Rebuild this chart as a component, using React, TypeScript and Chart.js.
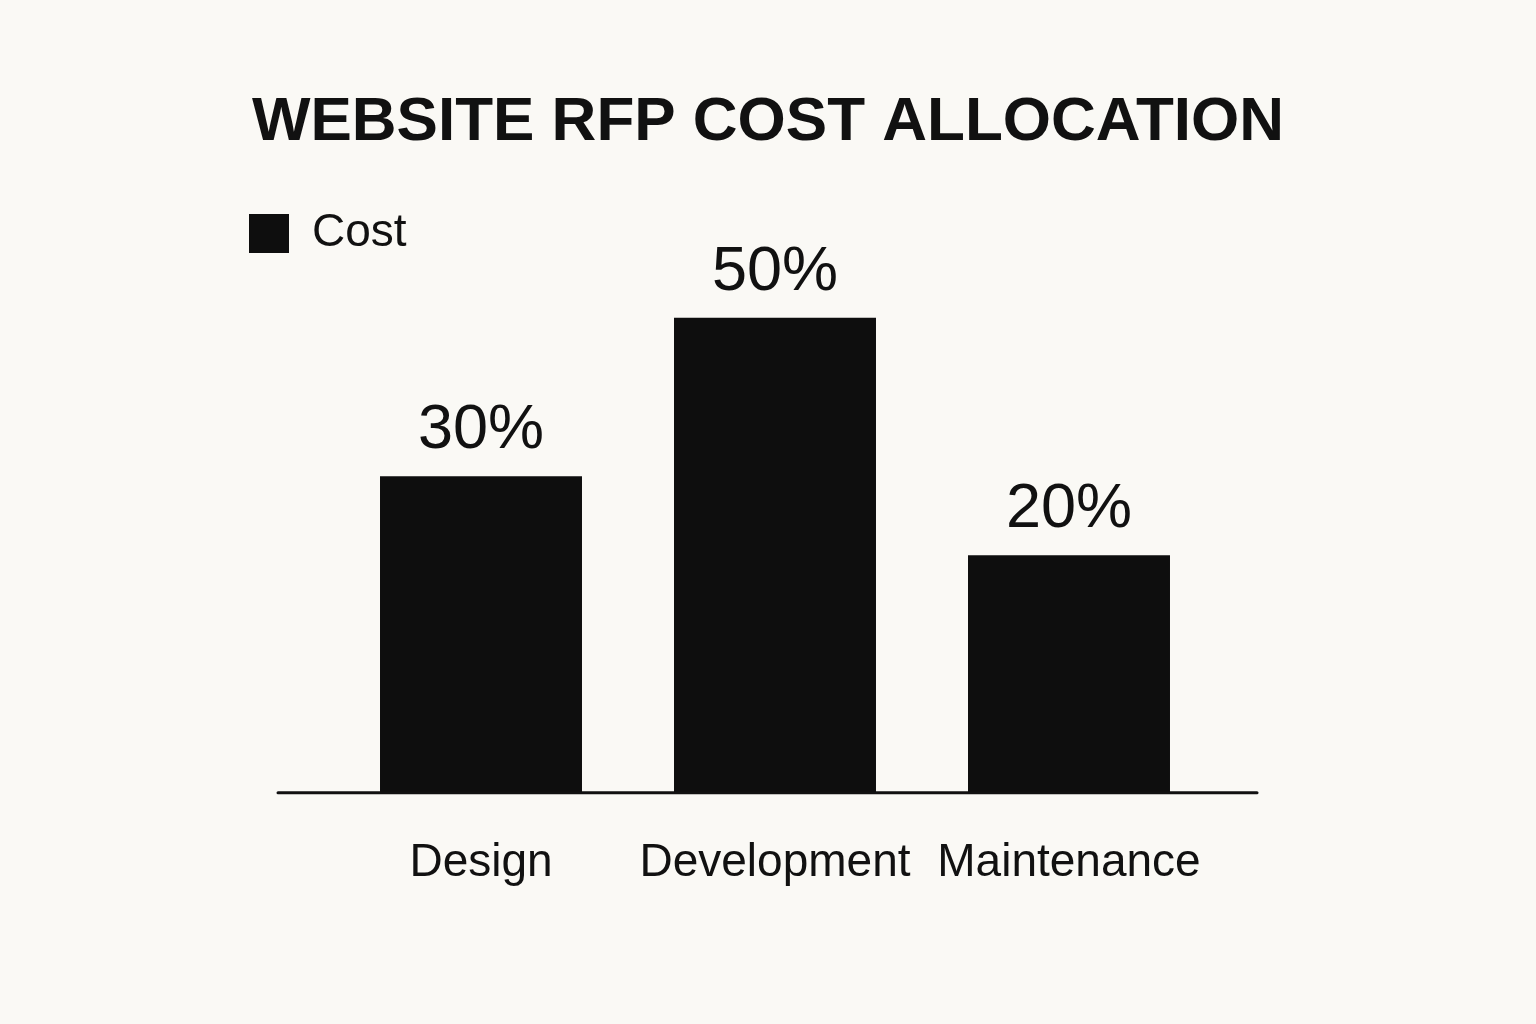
import { useEffect, useRef } from "react";
import { Chart, registerables } from "chart.js";

Chart.register(...registerables);

const categories = ["Design", "Development", "Maintenance"];
const costValues = [30, 50, 20];
const seriesLabel = "Cost";
const chartTitle = "WEBSITE RFP COST ALLOCATION";
const valueSuffix = "%";

const INK = "#111111";
const BAR = "#0e0e0e";
const BG = "#faf9f5";
const FONT = "'Liberation Sans', Arial, sans-serif";

export default function App() {
  const ref = useRef<HTMLCanvasElement>(null);

  useEffect(() => {
    if (!ref.current) return;

    const baselinePlugin = {
      id: "baseline",
      afterDatasetsDraw(chart: any) {
        const { ctx, chartArea, scales } = chart;
        const y = scales.y.getPixelForValue(scales.y.min);
        ctx.save();
        ctx.strokeStyle = INK;
        ctx.lineWidth = 3;
        ctx.lineCap = "round";
        ctx.beginPath();
        ctx.moveTo(chartArea.left - 56, y);
        ctx.lineTo(chartArea.right + 41, y);
        ctx.stroke();
        ctx.restore();
      },
    };

    const valueLabelPlugin = {
      id: "valueLabels",
      afterDatasetsDraw(chart: any) {
        const { ctx } = chart;
        const meta = chart.getDatasetMeta(0);
        ctx.save();
        ctx.fillStyle = INK;
        ctx.font = `63px ${FONT}`;
        ctx.textAlign = "center";
        ctx.textBaseline = "alphabetic";
        meta.data.forEach((bar: any, i: number) => {
          const v = chart.data.datasets[0].data[i];
          ctx.fillText(`${v}${valueSuffix}`, bar.x, bar.y - 28);
        });
        ctx.restore();
      },
    };

    const chart = new Chart(ref.current, {
      type: "bar",
      data: {
        labels: categories,
        datasets: [
          {
            label: seriesLabel,
            data: costValues,
            backgroundColor: BAR,
            borderColor: BAR,
            borderWidth: 0,
            base: -10,
            categoryPercentage: 1,
            barPercentage: 0.687,
          },
        ],
      },
      options: {
        animation: false,
        responsive: true,
        maintainAspectRatio: false,
        layout: { padding: { top: 0, left: 239, right: 239, bottom: 90 } },
        plugins: {
          title: {
            display: true,
            text: chartTitle,
            color: INK,
            font: { family: FONT, size: 62, weight: "bold" },
            padding: { top: 86, bottom: 40 },
          },
          legend: {
            display: true,
            position: "top",
            align: "start",
            labels: {
              boxWidth: 40,
              boxHeight: 39,
              padding: 10,
              color: INK,
              font: { family: FONT, size: 46 },
            },
          },
          tooltip: { enabled: false },
        },
        scales: {
          x: {
            grid: { display: false, drawTicks: false },
            border: { display: false },
            ticks: {
              color: INK,
              padding: 43,
              font: { family: FONT, size: 46 },
            },
          },
          y: {
            min: -10,
            max: 56.5,
            grid: { display: false, drawTicks: false },
            border: { display: false },
            ticks: { display: false },
            afterFit(s: any) {
              s.width = 95;
            },
          },
          yR: {
            position: "right",
            grid: { display: false, drawTicks: false },
            border: { display: false },
            ticks: { display: false },
            afterFit(s: any) {
              s.width = 81;
            },
          },
        },
      },
      plugins: [baselinePlugin, valueLabelPlugin],
    });

    return () => chart.destroy();
  }, []);

  return (
    <div
      style={{
        position: "fixed",
        left: 0,
        top: 0,
        width: "1536px",
        height: "1024px",
        background: BG,
      }}
    >
      <canvas ref={ref} />
    </div>
  );
}
